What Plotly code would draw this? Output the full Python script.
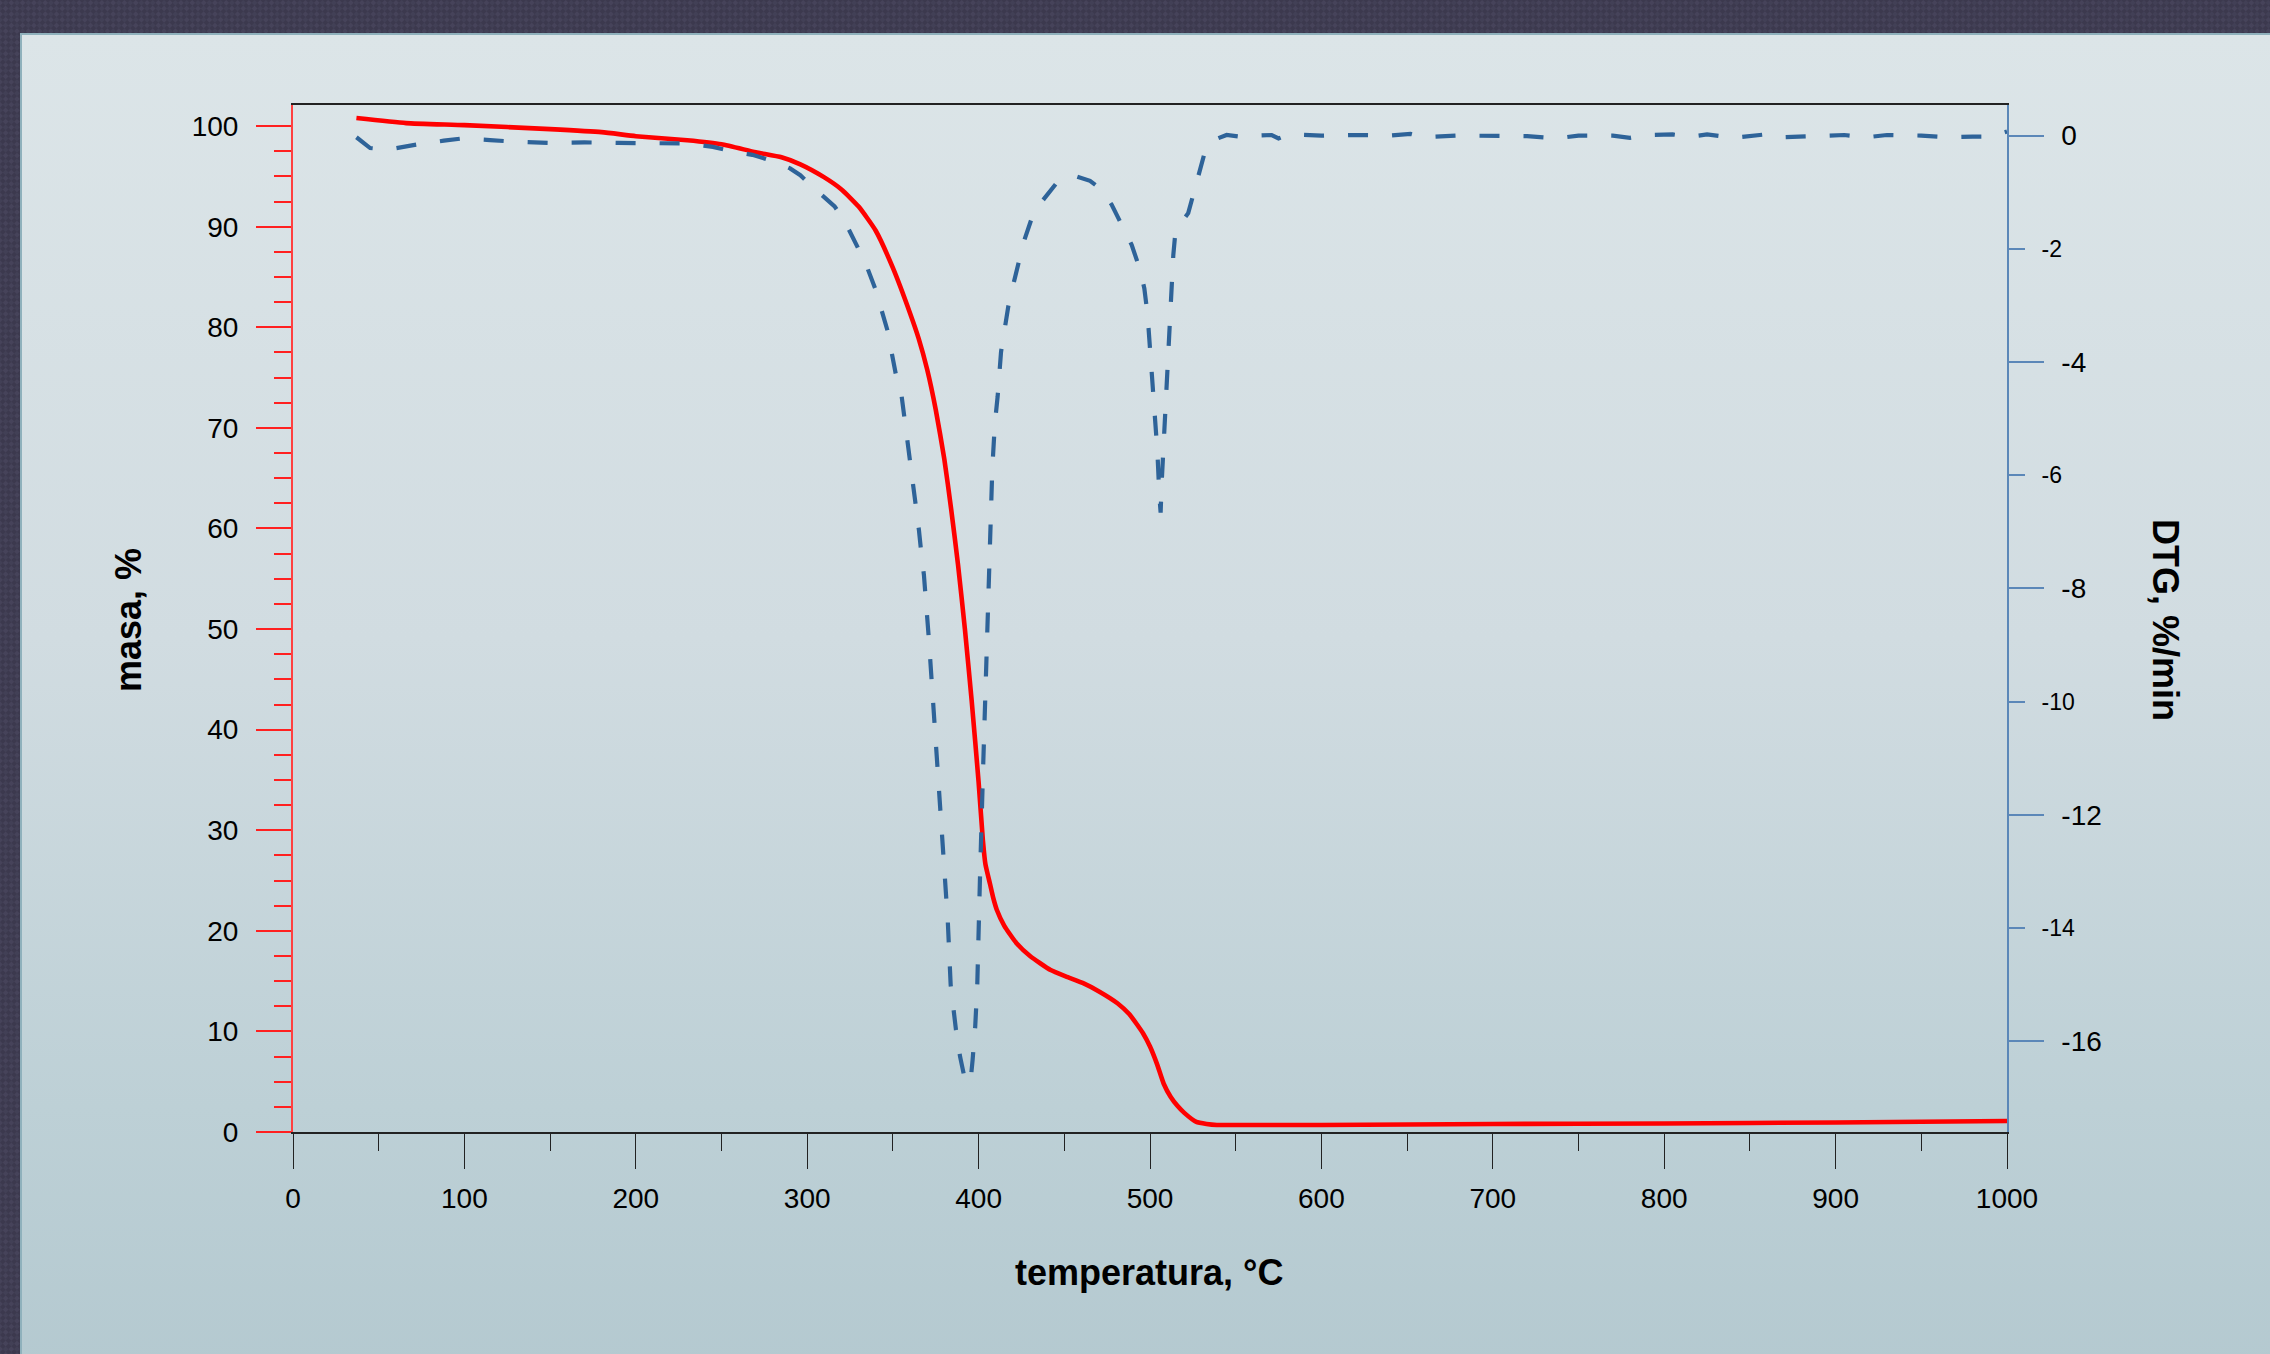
import base64
import plotly.graph_objects as go

# ---------------- data ----------------
tg_temp = [37, 66, 100, 150, 180, 200, 230, 250, 270, 285, 296, 310, 320, 330, 340, 350, 360, 365,
           370, 375, 380, 384, 388, 392, 396, 400, 402.5, 404, 406.6, 408.5, 410.6,
           415, 422, 430, 442, 452, 461, 470, 481, 488, 496, 500, 504, 508, 512, 516, 520, 527, 533,
           539, 560, 600, 700, 800, 900, 1000]
tg_mass = [100.8, 100.3, 100.1, 99.7, 99.4, 99.0, 98.6, 98.2, 97.4, 96.9, 96.2, 94.9, 93.7, 92.0,
           89.6, 85.9, 81.4, 78.9, 75.8, 71.8, 66.9, 61.9, 56.4, 50.0, 42.8, 34.8, 29.0, 26.6,
           24.7, 23.3, 22.1, 20.5, 18.8, 17.5, 16.1, 15.4, 14.8, 14.0, 12.8, 11.7, 9.8,
           8.5, 6.8, 4.8, 3.5, 2.6, 1.9, 1.0, 0.8, 0.7, 0.7, 0.7, 0.8, 0.85, 0.95, 1.1]

dtg_temp = [37, 45, 55, 62, 72, 88, 99, 115, 130, 150, 170, 190, 210, 230, 245, 255, 268, 280, 290,
            296, 304, 310, 316, 322, 329, 334, 340, 343, 347, 349, 352, 355, 357, 359, 361, 362.3,
            364, 365.2, 366.8, 368.1, 371, 374, 377, 380.4, 382, 383.7, 385.2, 386.8, 389.2, 391.5,
            393.5, 395.4, 396.5, 398, 399.2, 400, 400.8, 402.5, 404, 405.7, 407, 408, 409.5, 411.1,
            413.1, 414.8, 417.3, 419.7, 423.2, 426.1, 431, 436.8, 446.5, 457, 465, 470.8, 477.6,
            484.4, 489.3, 494.2, 496.7, 498.6, 500.6, 502.6, 504.3, 505.5, 506.2, 506.8, 507.4,
            508.6, 509.7, 510.9, 511.7, 512.7, 513.6, 514.6, 518, 522.3, 525.3, 529.2, 532.1, 537,
            544.7, 555, 563, 571, 575, 581, 600, 620, 640, 652, 660, 680, 700, 720, 737, 750, 770,
            780, 790, 805, 815, 825, 840, 850, 862, 870, 890, 905, 918, 930, 950, 965, 980, 990, 1000]
dtg_rate = [-0.03, -0.22, -0.25, -0.21, -0.16, -0.09, -0.05, -0.08, -0.11, -0.13, -0.12, -0.13,
            -0.14, -0.14, -0.2, -0.27, -0.34, -0.45, -0.58, -0.7, -0.93, -1.08, -1.25, -1.52, -1.96,
            -2.25, -2.73, -3.02, -3.46, -3.79, -4.26, -4.58, -5.05, -5.38, -5.85, -6.17, -6.64,
            -6.97, -7.44, -7.76, -8.9, -10.2, -11.6, -13.06, -13.86, -15.0, -15.48, -15.8, -16.27,
            -16.6, -16.75, -16.67, -16.33, -15.75, -15.03, -14.3, -13.12, -11.3, -9.7, -7.82,
            -6.67, -5.88, -5.08, -4.61, -3.82, -3.46, -3.02, -2.7, -2.24, -1.9, -1.46, -1.17, -0.8,
            -0.72, -0.8, -0.93, -1.22, -1.61, -1.93, -2.37, -2.7, -3.17, -3.96, -4.76, -5.58, -6.38,
            -6.66, -6.14, -5.79, -4.96, -4.17, -3.37, -2.9, -2.55, -2.11, -1.78, -1.55, -1.37,
            -1.05, -0.61, -0.28, -0.08, 0.01, -0.03, 0.0, 0.01, -0.05, 0.02, 0.0, 0.01, 0.0, 0.03,
            -0.03, 0.0, 0.0, -0.01, -0.05, 0.0, 0.0, -0.04, 0.01, 0.02, -0.02, 0.02, -0.04, 0.0,
            0.03, -0.03, 0.0, 0.01, -0.03, 0.01, 0.0, -0.03, -0.02, -0.02, 0.07]

dtg_major_vals = [0, -4, -8, -12, -16]
dtg_major_text = ["0", "-4", "-8", "-12", "-16"]
dtg_minor_vals = [-2, -6, -10, -14]
dtg_minor_text = ["-2", "-6", "-10", "-14"]

x_title = "temperatura, °C"
y_title = "masa, %"
y2_title = "DTG, %/min"

# ---------------- geometry ----------------
W, H = 2270, 1354
ML, MR, MT, MB = 293, 263, 105, 222
PW, PH = W - ML - MR, H - MT - MB
FONT = "Liberation Sans, Arial, sans-serif"


def px_to_paper_x(px):
    return (px - ML) / PW


def px_to_paper_y(py):
    return (H - MB - py) / PH


def svg_uri(svg):
    return "data:image/svg+xml;base64," + base64.b64encode(svg.encode()).decode()


carbon_svg = (
    f"<svg xmlns='http://www.w3.org/2000/svg' width='{W}' height='{H}' viewBox='0 0 {W} {H}' "
    "preserveAspectRatio='none'><defs><pattern id='p' width='8' height='8' patternUnits='userSpaceOnUse' "
    "patternTransform='rotate(45)'><rect width='8' height='8' fill='#3c394e'/>"
    "<rect width='4' height='4' fill='#46435a'/><rect x='4' y='4' width='4' height='4' fill='#424056'/>"
    "</pattern></defs><rect width='100%' height='100%' fill='url(#p)'/></svg>"
)
PX0, PY0 = 20, 33
pw, ph = W - PX0, H - PY0
panel_svg = (
    f"<svg xmlns='http://www.w3.org/2000/svg' width='{pw}' height='{ph}' viewBox='0 0 {pw} {ph}' "
    "preserveAspectRatio='none'><defs><linearGradient id='g' x1='0' y1='0' x2='0' y2='1'>"
    "<stop offset='0' stop-color='#dce5e8'/><stop offset='0.45' stop-color='#d1dce1'/>"
    "<stop offset='0.8' stop-color='#bdd0d6'/><stop offset='1' stop-color='#b4c9d0'/>"
    f"</linearGradient></defs><rect x='1' y='1' width='{pw + 20}' height='{ph + 20}' fill='url(#g)' "
    "stroke='#8fb1bc' stroke-width='2'/></svg>"
)

fig = go.Figure()

fig.add_trace(go.Scatter(
    x=dtg_temp, y=dtg_rate, yaxis="y2", mode="lines",
    line=dict(color="#2e6399", width=4.2, dash="20px,24px"),
    showlegend=False, hoverinfo="skip",
))
# empty trace so the secondary tick axis (y3) is rendered
fig.add_trace(go.Scatter(x=[], y=[], yaxis="y3", mode="lines", showlegend=False, hoverinfo="skip"))
fig.add_trace(go.Scatter(
    x=tg_temp, y=tg_mass, yaxis="y", mode="lines",
    line=dict(color="#ff0000", width=4.6, shape="spline", smoothing=0.5),
    showlegend=False, hoverinfo="skip",
))

fig.update_layout(
    width=W, height=H, autosize=False,
    margin=dict(l=ML, r=MR, t=MT, b=MB, pad=0),
    paper_bgcolor="#3e3b50",
    plot_bgcolor="rgba(0,0,0,0)",
    font=dict(family=FONT, color="black", size=28),
    showlegend=False,
    xaxis=dict(
        range=[0, 1000], dtick=100, tick0=0, ticks="outside", ticklen=35, tickwidth=1.2,
        tickcolor="#222222", showline=True, linecolor="#222222", linewidth=1.5, mirror=True,
        showgrid=False, zeroline=False, tickfont=dict(size=28), ticklabelstandoff=6,
        minor=dict(dtick=50, tick0=0, ticks="outside", ticklen=17, tickwidth=1.2, tickcolor="#222222",
                   showgrid=False),
    ),
    yaxis=dict(
        range=[0, 102.1], dtick=10, tick0=0, ticks="outside", ticklen=35, tickwidth=1.5,
        tickcolor="#ff2020", showline=True, linecolor="#ff4040", linewidth=2,
        showgrid=False, zeroline=False, tickfont=dict(size=28), ticklabelstandoff=12,
        minor=dict(dtick=2.5, tick0=0, ticks="outside", ticklen=17, tickwidth=1.5, tickcolor="#ff2020",
                   showgrid=False),
    ),
    yaxis2=dict(
        range=[-17.6, 0.54], overlaying="y", side="right", anchor="x",
        tickmode="array", tickvals=dtg_major_vals, ticktext=dtg_major_text,
        ticks="outside", ticklen=35, tickwidth=1.5, tickcolor="#5b87b8",
        showline=True, linecolor="#5b87b8", linewidth=1.5,
        showgrid=False, zeroline=False, tickfont=dict(size=28), ticklabelstandoff=12,
    ),
    yaxis3=dict(
        range=[-17.6, 0.54], overlaying="y", side="right", anchor="x",
        tickmode="array", tickvals=dtg_minor_vals, ticktext=dtg_minor_text,
        ticks="outside", ticklen=17, tickwidth=1.5, tickcolor="#5b87b8",
        showline=False, showgrid=False, zeroline=False, tickfont=dict(size=23), ticklabelstandoff=12,
    ),
    images=[
        dict(source=svg_uri(carbon_svg), xref="paper", yref="paper",
             x=px_to_paper_x(0), y=px_to_paper_y(0), sizex=W / PW, sizey=H / PH,
             xanchor="left", yanchor="top", sizing="stretch", layer="below"),
        dict(source=svg_uri(panel_svg), xref="paper", yref="paper",
             x=px_to_paper_x(PX0), y=px_to_paper_y(PY0), sizex=pw / PW, sizey=ph / PH,
             xanchor="left", yanchor="top", sizing="stretch", layer="below"),
    ],
    annotations=[
        dict(text=f"<b>{x_title}</b>", xref="paper", yref="paper",
             x=px_to_paper_x(1149), y=px_to_paper_y(1272), showarrow=False,
             xanchor="center", yanchor="middle", font=dict(size=36, family=FONT)),
        dict(text=f"<b>{y_title}</b>", xref="paper", yref="paper",
             x=px_to_paper_x(128), y=px_to_paper_y(620), showarrow=False, textangle=-90,
             xanchor="center", yanchor="middle", font=dict(size=36, family=FONT)),
        dict(text=f"<b>{y2_title}</b>", xref="paper", yref="paper",
             x=px_to_paper_x(2166), y=px_to_paper_y(620), showarrow=False, textangle=90,
             xanchor="center", yanchor="middle", font=dict(size=36, family=FONT)),
    ],
)

fig.write_html("out.html")
